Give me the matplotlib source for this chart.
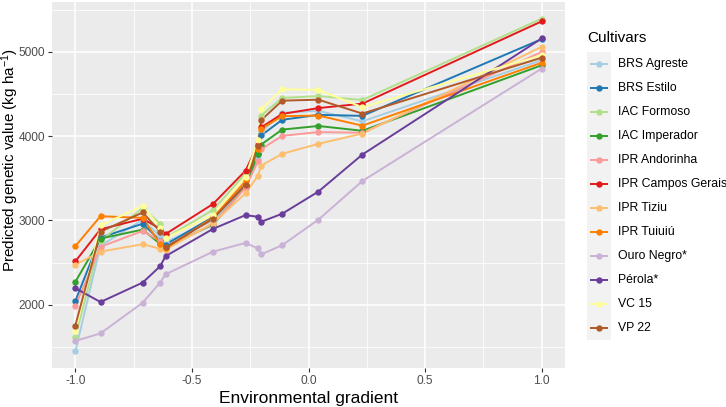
import matplotlib
matplotlib.use("Agg")
import matplotlib.pyplot as plt
from matplotlib.patches import Rectangle

plt.rcParams['font.family'] = ['Liberation Sans', 'DejaVu Sans']
plt.rcParams['mathtext.fontset'] = 'custom'
plt.rcParams['mathtext.rm'] = 'Liberation Sans'
plt.rcParams['mathtext.it'] = 'Liberation Sans:italic'

# environmental gradient (x) for the 13 environments
gradient = [-1.0, -0.892, -0.711, -0.636, -0.613, -0.409, -0.270,
            -0.217, -0.203, -0.113, 0.042, 0.231, 1.0]

cultivars = ["BRS Agreste", "BRS Estilo", "IAC Formoso", "IAC Imperador",
             "IPR Andorinha", "IPR Campos Gerais", "IPR Tiziu", "IPR Tuiuiú",
             "Ouro Negro*", "Pérola*", "VC 15", "VP 22"]

brs_agreste = [1447, 2700, 3008, 2812, 2740, 3000, 3400, 3734, 4047, 4275, 4300, 4175, 4900]
brs_estilo = [2044, 2797, 2961, 2760, 2714, 3040, 3420, 3793, 4008, 4193, 4252, 4240, 5150]
iac_formoso = [1620, 2760, 3146, 2961, 2793, 3126, 3558, 3930, 4244, 4452, 4475, 4428, 5393]
iac_imperador = [2271, 2785, 2891, 2720, 2690, 2950, 3400, 3790, 3900, 4077, 4120, 4063, 4840]
ipr_andorinha = [1985, 2687, 2875, 2753, 2670, 2960, 3390, 3700, 3844, 4003, 4047, 4040, 4997]
ipr_campos_gerais = [2514, 2895, 3020, 2900, 2838, 3196, 3590, 3899, 4103, 4263, 4332, 4385, 5361]
ipr_tiziu = [2475, 2630, 2718, 2663, 2655, 2970, 3322, 3530, 3650, 3790, 3908, 4030, 5059]
ipr_tuiuiu = [2694, 3050, 3030, 2720, 2667, 3035, 3467, 3850, 4087, 4236, 4244, 4124, 4870]
ouro_negro = [1571, 1660, 2025, 2263, 2361, 2630, 2733, 2667, 2597, 2706, 3008, 3467, 4801]
perola = [2196, 2032, 2263, 2457, 2576, 2900, 3063, 3043, 2984, 3079, 3341, 3781, 5158]
vc_15 = [1690, 2940, 3173, 2914, 2790, 3067, 3518, 3950, 4316, 4555, 4548, 4342, 4958]
vp_22 = [1753, 2867, 3094, 2867, 2680, 3020, 3425, 3880, 4189, 4420, 4432, 4267, 4930]

values = [brs_agreste, brs_estilo, iac_formoso, iac_imperador, ipr_andorinha,
          ipr_campos_gerais, ipr_tiziu, ipr_tuiuiu, ouro_negro, perola, vc_15, vp_22]

colors = ["#A6CEE3", "#1F78B4", "#B2DF8A", "#33A02C", "#FB9A99", "#E31A1C",
          "#FDBF6F", "#FF7F00", "#CAB2D6", "#6A3D9A", "#FFFF99", "#B15928"]

W, H = 726, 407
fig = plt.figure(figsize=(W / 100, H / 100), dpi=100)
# panel: x 52..565 px, y 2..368 px
ax = fig.add_axes([52 / W, 1 - 368 / H, (565 - 52) / W, (368 - 2) / H])
ax.set_facecolor("#EBEBEB")

# lines first, points on top (like geom_line + geom_point)
for vals, col in zip(values, colors):
    ax.plot(gradient, vals, color=col, lw=1.4, zorder=2, solid_capstyle="butt")
for vals, col in zip(values, colors):
    ax.plot(gradient, vals, ls="none", marker="o", ms=4.6, mew=0,
            color=col, zorder=3)

allv = [v for vals in values for v in vals]
lo, hi = min(allv), max(allv)
pad = (hi - lo) * 0.05
ax.set_ylim(lo - pad, hi + pad)
ax.set_xlim(-1.1, 1.1)

ax.set_xticks([-1.0, -0.5, 0.0, 0.5, 1.0])
ax.set_xticklabels(["-1.0", "-0.5", "0.0", "0.5", "1.0"])
ax.set_yticks([2000, 3000, 4000, 5000])
ax.set_xticks([-0.75, -0.25, 0.25, 0.75], minor=True)
ax.set_yticks([1500, 2500, 3500, 4500, 5500], minor=True)

ax.grid(which="major", color="white", lw=1.1)
ax.grid(which="minor", color="white", lw=0.55)
ax.set_axisbelow(True)
for s in ax.spines.values():
    s.set_visible(False)
ax.tick_params(which="major", length=3, width=0.8, color="#333333",
               labelcolor="#4D4D4D", labelsize=8.6, pad=2)
ax.tick_params(which="minor", length=0)

ax.set_xlabel("Environmental gradient", fontsize=12.5, color="black", labelpad=3)
ax.set_ylabel(r"Predicted genetic value (kg ha$^{-1}$)", fontsize=11,
              color="black", va="center")
# title sits a bit above the panel centre in the reference
ax.yaxis.set_label_coords((10 - 52) / (565 - 52), (368 - 160) / 366)

# legend drawn in pixel coordinates
lg = fig.add_axes([0, 0, 1, 1], facecolor="none")
lg.set_xlim(0, W)
lg.set_ylim(H, 0)
lg.axis("off")
lg.text(587, 38, "Cultivars", fontsize=11, va="center", ha="left")
lg.add_patch(Rectangle((587, 52), 23.5, 288, facecolor="#F2F2F2", edgecolor="none"))
for i, (name, col) in enumerate(zip(cultivars, colors)):
    yy = 64.3 + 24.0 * i
    lg.plot([589.5, 608], [yy, yy], color=col, lw=1.4, solid_capstyle="butt")
    lg.plot([598.7], [yy], marker="o", ms=4.6, mew=0, color=col)
    lg.text(618, yy, name, fontsize=8.8, va="center", ha="left")

fig.savefig("out.png", dpi=100)
